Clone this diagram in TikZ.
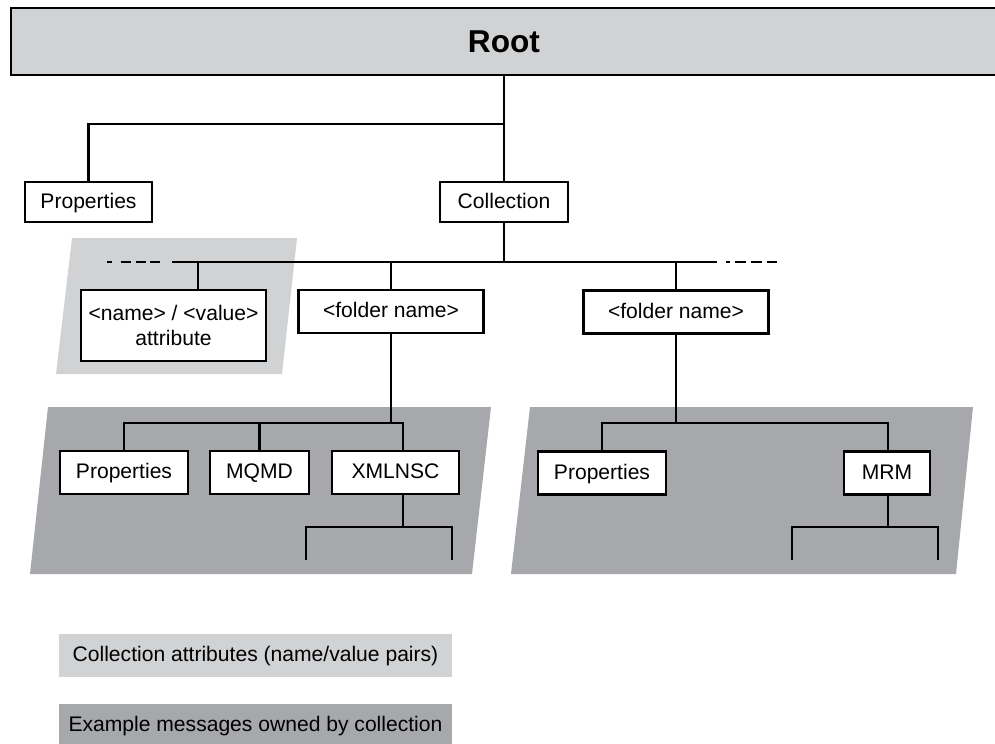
\documentclass[tikz,border=0pt]{standalone}
\usepackage{fontspec}
\setmainfont{Liberation Sans}
\usepackage{xcolor}
\definecolor{attrgray}{RGB}{209,210,212}
\definecolor{msggray}{RGB}{167,168,171}
\usepackage{tikz}

\begin{document}
\begin{tikzpicture}[x=0.02cm, y=-0.02cm, line width=1.3pt,
    attrbox/.style={draw, fill=white, inner sep=0pt, minimum height=0.86cm, align=center},
    box/.style={attrbox, text height=8.8pt, text depth=1.6pt},
    legend/.style={inner sep=0pt, minimum width=7.86cm, minimum height=0.86cm, text height=8.8pt, text depth=1.6pt}]
    \fontsize{12}{14}\selectfont
    \useasboundingbox (0,0) rectangle (995,744);
    % shaded areas
    \fill[attrgray] (72,238) -- (297,238) -- (282,374) -- (56,374) -- cycle;
    \fill[msggray] (48,407) -- (491,407) -- (472,574) -- (30,574) -- cycle;
    \fill[msggray] (530,407) -- (973,407) -- (956,574) -- (511,574) -- cycle;
    % nodes
    \node[box, fill=attrgray, minimum width=19.72cm, minimum height=1.34cm, text height=13pt, text depth=0pt, font=\fontsize{18}{20}\selectfont\bfseries] (root) at (504,41.5) {Root};
    \node[box, minimum width=2.54cm, minimum height=0.8cm] (props) at (88.5,202) {Properties};
    \node[box, minimum width=2.56cm, minimum height=0.8cm] (coll) at (504,202) {Collection};
    \node[attrbox, minimum width=3.7cm, minimum height=1.42cm] (attr) at (173.5,325.5) {<name> / <value>\\attribute};
    \node[box, minimum width=3.7cm] (folderA) at (391,311.5) {<folder name>};
    \node[box, minimum width=3.7cm] (folderB) at (676,312) {<folder name>};
    \node[box, minimum width=2.56cm] (propsA) at (124,472.5) {Properties};
    \node[box, minimum width=1.98cm] (mqmdA) at (259.5,472.5) {MQMD};
    \node[box, minimum width=2.54cm] (xmlA) at (395.5,472.5) {XMLNSC};
    \node[box, minimum width=2.56cm] (propsB) at (602,473) {Properties};
    \node[box, minimum width=1.72cm] (mrmB) at (887,473) {MRM};
    \node[legend, fill=attrgray] (legAttr) at (255.5,655.5) {Collection attributes (name/value pairs)};
    \node[legend, fill=msggray] (legMsg) at (255.5,725.5) {Example messages owned by collection};
    % connectors
    \coordinate (split) at (504,124);
    \coordinate (bus) at (504,262);
    \coordinate (busL) at (172,262);
    \coordinate (busR) at (717,262);
    \coordinate (dashL) at (107,262);
    \coordinate (dashL2) at (160,262);
    \coordinate (dashR0) at (726,262);
    \coordinate (dashR) at (777,262);
    \coordinate (attrStem) at (198,262);
    \coordinate (busA) at (391,423);
    \coordinate (xmlStem) at (403,0);
    \coordinate (forkA) at (403,527);
    \coordinate (leafA1) at (306,560);
    \coordinate (leafA2) at (452,560);
    \coordinate (busB) at (676,423);
    \coordinate (forkB) at (888,527);
    \coordinate (leafB1) at (792,560);
    \coordinate (leafB2) at (938,560);
    \draw (root.south) -- (coll.north);
    \draw (split) -| (props.north);
    \draw (coll.south) -- (bus);
    \draw (busL) -- (busR);
    \draw[dash pattern=on 2.8pt off 5pt on 5.7pt off 2.8pt on 5.7pt off 2.2pt on 5.7pt off 10pt] (dashL) -- (dashL2);
    \draw[dash pattern=on 2.3pt off 2.8pt on 6.5pt off 2.6pt on 6.5pt off 2.6pt on 6.5pt off 10pt] (dashR0) -- (dashR);
    \draw (attrStem) -- (attrStem |- attr.north);
    \draw (folderA.north |- bus) -- (folderA.north);
    \draw (folderB.north |- bus) -- (folderB.north);
    % first message
    \draw (folderA.south) -- (busA);
    \draw (propsA.north) |- (busA -| xmlStem) -- (xmlA.north -| xmlStem);
    \draw (mqmdA.north) -- (mqmdA.north |- busA);
    \draw (xmlA.south -| xmlStem) -- (forkA);
    \draw (leafA1) |- (forkA) -| (leafA2);
    % second message
    \draw (folderB.south) -- (busB);
    \draw (propsB.north) |- (busB) -| (mrmB.north -| forkB);
    \draw (mrmB.south -| forkB) -- (forkB);
    \draw (leafB1) |- (forkB) -| (leafB2);
\end{tikzpicture}
\end{document}
